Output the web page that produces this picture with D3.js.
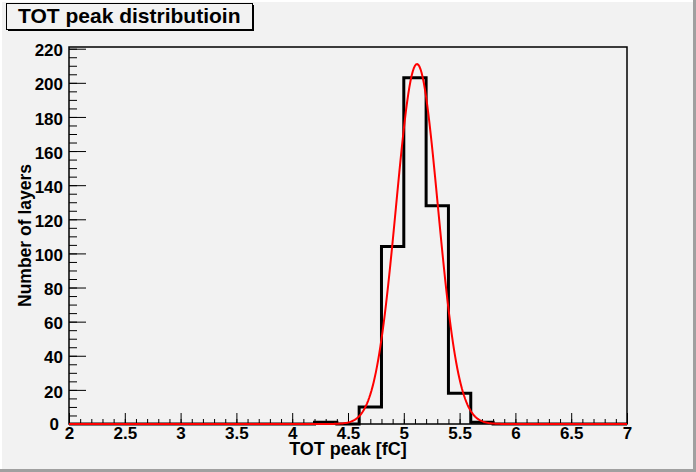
<!DOCTYPE html>
<html>
<head>
<title>TOT peak distribution</title>
<script src="https://d3js.org/d3.v7.min.js" charset="utf-8"></script>
<style>
  body { margin: 0; background: #f2f2f2; }
  svg { display: block; font-family: "Liberation Sans", Arial, sans-serif; font-weight: bold; }
  .tick text { font-family: "Liberation Sans", Arial, sans-serif; font-weight: bold; }
</style>
</head>
<body>
<script>
// histogram bins (lower edge, width 0.2) and counts
var binLow = [2.0, 2.2, 2.4, 2.6, 2.8, 3.0, 3.2, 3.4, 3.6, 3.8, 4.0, 4.2, 4.4,
              4.6, 4.8, 5.0, 5.2, 5.4, 5.6, 5.8, 6.0, 6.2, 6.4, 6.6, 6.8];
var binCount = [0, 0, 0, 0, 0, 0, 0, 0, 0, 0, 0, 1, 0,
                10, 104, 203, 128, 18, 1, 0, 0, 0, 0, 0, 0];
var binWidth = 0.2;

// gaussian fit: constant, mean, sigma
var fitParams = [211, 5.118, 0.187];

var xTicks = [2, 2.5, 3, 3.5, 4, 4.5, 5, 5.5, 6, 6.5, 7];
var yTicks = [0, 20, 40, 60, 80, 100, 120, 140, 160, 180, 200, 220];

var titleText = "TOT peak distributioin";
var xTitle = "TOT peak [fC]";
var yTitle = "Number of layers";

var width = 696, height = 472;
// frame edges (window.top is reserved, so prefixed names)
var fLeft = 69, fRight = 627, fTop = 47, fBottom = 424;

var svg = d3.select("body").append("svg")
  .attr("width", width)
  .attr("height", height);

// canvas with bevel border
svg.append("rect").attr("width", width).attr("height", height).attr("fill", "#f2f2f2");
svg.append("path").attr("d", "M1,471V1H695").attr("stroke", "#ffffff").attr("stroke-width", 2).attr("fill", "none");
svg.append("path").attr("d", "M694.5,0V470.5H0").attr("stroke", "#a0a0a0").attr("stroke-width", 3).attr("fill", "none");

var x = d3.scaleLinear().domain([2, 7]).range([fLeft, fRight]);
var y = d3.scaleLinear().domain([0, 221]).range([fBottom, fTop]);

// minor ticks
svg.append("g")
  .attr("transform", "translate(0," + fBottom + ")")
  .call(d3.axisBottom(x).tickValues(d3.range(2, 7.001, 0.1)).tickSize(-5).tickSizeOuter(0).tickFormat(""))
  .call(function(g) { g.select(".domain").remove(); });
svg.append("g")
  .attr("transform", "translate(" + fLeft + ",0)")
  .call(d3.axisLeft(y).tickValues(d3.range(0, 221, 5)).tickSize(-8).tickSizeOuter(0).tickFormat(""))
  .call(function(g) { g.select(".domain").remove(); });

// major ticks and labels
var xAxis = svg.append("g")
  .attr("transform", "translate(0," + fBottom + ")")
  .call(d3.axisBottom(x).tickValues(xTicks).tickSize(-11).tickSizeOuter(0).tickPadding(3).tickFormat(d3.format("")))
  .call(function(g) { g.select(".domain").remove(); });
xAxis.selectAll("text").attr("font-size", 17).attr("fill", "#000");

var yAxis = svg.append("g")
  .attr("transform", "translate(" + fLeft + ",0)")
  .call(d3.axisLeft(y).tickValues(yTicks).tickSize(-17).tickSizeOuter(0).tickPadding(6))
  .call(function(g) { g.select(".domain").remove(); });
yAxis.selectAll("text").attr("font-size", 17).attr("fill", "#000").attr("dy", "0.42em");
yAxis.selectAll(".tick").filter(function(d) { return d === 0; }).select("text").attr("x", -10).attr("dy", "0.3em");

svg.selectAll(".tick line").attr("stroke", "#000").attr("stroke-width", 1);

// frame
svg.append("rect")
  .attr("x", fLeft).attr("y", fTop)
  .attr("width", fRight - fLeft).attr("height", fBottom - fTop)
  .attr("fill", "none").attr("stroke", "#000").attr("stroke-width", 1.5);

// histogram outline
var pts = [[binLow[0], 0]];
binLow.forEach(function(lo, i) {
  pts.push([lo, binCount[i]]);
  pts.push([lo + binWidth, binCount[i]]);
});
pts.push([binLow[binLow.length - 1] + binWidth, 0]);

svg.append("path")
  .datum(pts)
  .attr("fill", "none")
  .attr("stroke", "#000")
  .attr("stroke-width", 3)
  .attr("stroke-linejoin", "miter")
  .attr("d", d3.line().x(function(d) { return x(d[0]); }).y(function(d) { return y(d[1]); }));

// fit curve
var fx = d3.range(2, 7.0001, 0.01);
svg.append("path")
  .datum(fx)
  .attr("fill", "none")
  .attr("stroke", "#ff0000")
  .attr("stroke-width", 2)
  .attr("d", d3.line()
    .x(function(d) { return x(d); })
    .y(function(d) {
      var t = (d - fitParams[1]) / fitParams[2];
      return y(fitParams[0] * Math.exp(-0.5 * t * t));
    }));

// axis titles
svg.append("text")
  .attr("x", (fLeft + fRight) / 2).attr("y", 455)
  .attr("text-anchor", "middle").attr("font-size", 18)
  .text(xTitle);
svg.append("text")
  .attr("transform", "translate(31," + ((fTop + fBottom) / 2) + ") rotate(-90)")
  .attr("text-anchor", "middle").attr("font-size", 17.5)
  .text(yTitle);

// title box
svg.append("rect").attr("x", 8).attr("y", 5).attr("width", 246).attr("height", 26).attr("fill", "#000");
svg.append("rect").attr("x", 6.5).attr("y", 3.5).attr("width", 246).attr("height", 26)
  .attr("fill", "#f2f2f2").attr("stroke", "#000").attr("stroke-width", 1);
svg.append("text")
  .attr("x", 18).attr("y", 23.3)
  .attr("font-size", 21)
  .text(titleText);
</script>
</body>
</html>
